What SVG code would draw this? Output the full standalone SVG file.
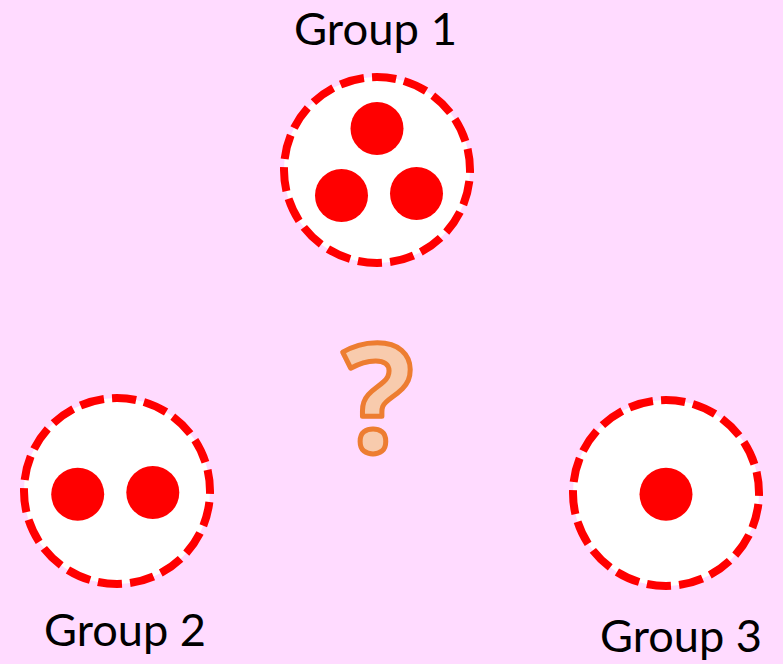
<svg xmlns="http://www.w3.org/2000/svg" width="783" height="664" viewBox="0 0 783 664">
<style>
.ring{fill:#FFFFFF;stroke:#FF0000;stroke-width:8;stroke-dasharray:24 8;stroke-dashoffset:21}
.dot{fill:#FF0000}
.lbl{font-family:Lato,"Open Sans","Liberation Sans",sans-serif;font-size:44px;fill:#000000}
.q{font-family:"Open Sans","Liberation Sans",sans-serif;font-weight:bold;font-size:150px;fill:#F8CBAD;stroke:#ED7D31;stroke-width:5;stroke-linejoin:round;text-anchor:middle}
</style>
<rect x="0" y="0" width="783" height="664" fill="#FFDBFF"/>
<g id="group1">
<circle class="ring" cx="377" cy="170" r="93" pathLength="576"/>
<circle class="dot" cx="377" cy="128.5" r="26.5"/>
<circle class="dot" cx="341.5" cy="195.5" r="26.5"/>
<circle class="dot" cx="416.5" cy="193.5" r="26.5"/>
<text class="lbl" x="294" y="45" textLength="163" lengthAdjust="spacingAndGlyphs">Group 1</text>
</g>
<g id="group2">
<circle class="ring" cx="117" cy="491" r="93" pathLength="576"/>
<circle class="dot" cx="77.7" cy="494.3" r="26.5"/>
<circle class="dot" cx="152.8" cy="492.5" r="26.5"/>
<text class="lbl" x="44" y="646" textLength="162" lengthAdjust="spacingAndGlyphs">Group 2</text>
</g>
<g id="group3">
<circle class="ring" cx="666" cy="493" r="93" pathLength="576"/>
<circle class="dot" cx="666" cy="494.3" r="26.5"/>
<text class="lbl" x="600" y="652" textLength="162" lengthAdjust="spacingAndGlyphs">Group 3</text>
</g>
<g id="question">
<text class="q" x="378" y="452">?</text>
</g>
<g id="connectors"/>
</svg>
